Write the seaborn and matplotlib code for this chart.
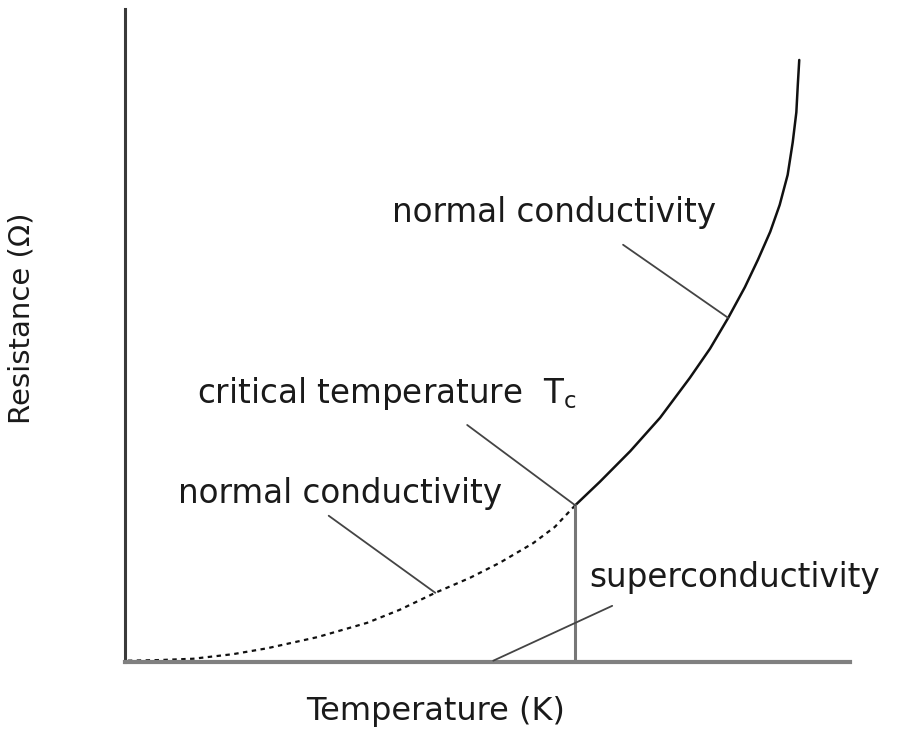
import seaborn as sns
import matplotlib
matplotlib.use('Agg')
import matplotlib.pyplot as plt
import pandas as pd

# resistance curve below Tc (dashed, "would-be" normal behaviour)
temp_normal_low = [0.4, 4.8, 9.4, 14.9, 19.6, 26.5, 33.4, 37.9, 42.8,
                   47.6, 51.7, 56.3, 59.3, 62.1]
res_normal_low = [0.2, 0.3, 0.5, 1.2, 2.1, 3.8, 6.0, 8.0, 10.6,
                  12.9, 15.2, 18.2, 20.7, 24.0]

# resistance curve above Tc (solid)
temp_normal_high = [62.1, 65.5, 69.7, 73.8, 77.9, 80.7, 83.2, 85.5, 87.3,
                    89.0, 90.3, 91.4, 92.1, 92.6, 92.8, 93.0]
res_normal_high = [24.0, 27.6, 32.3, 37.4, 43.5, 48.0, 52.7, 57.4, 61.6,
                   65.9, 70.0, 74.6, 79.6, 84.2, 88.4, 92.2]

t_critical = 62.1
r_critical = 24.0

# label text, anchor of text, pointer start, pointer end
labels = ['normal conductivity', 'critical temperature  T$_{\\mathrm{c}}$',
          'normal conductivity', 'superconductivity']
label_pos = [(36.8, 67.4), (9.9, 39.7), (7.3, 24.3), (64.1, 11.5)]
pointer_from = [(68.7, 63.9), (47.2, 36.3), (28.1, 22.4), (67.2, 8.6)]
pointer_to = [(83.2, 52.7), (62.1, 24.0), (42.8, 10.6), (50.8, 0.2)]

sns.set_theme(style='white')
plt.rcParams['font.family'] = ['DejaVu Sans']
plt.rcParams['mathtext.fontset'] = 'dejavusans'

fig = plt.figure(figsize=(9.01, 7.29), dpi=100)
ax = fig.add_axes([0.1387, 0.0919, 0.8047, 0.8957])

low = pd.DataFrame({'T': temp_normal_low, 'R': res_normal_low})
high = pd.DataFrame({'T': temp_normal_high, 'R': res_normal_high})

sns.lineplot(data=low, x='T', y='R', ax=ax, sort=False, color='#111111',
             linewidth=1.6, linestyle=(0, (2, 2)))
sns.lineplot(data=high, x='T', y='R', ax=ax, sort=False, color='#111111',
             linewidth=1.8)
ax.plot([t_critical, t_critical], [0, r_critical], color='#777777', linewidth=2.2)

for txt, pos, p0, p1 in zip(labels, label_pos, pointer_from, pointer_to):
    ax.text(pos[0], pos[1], txt, fontsize=23.5, color='#1a1a1a',
            ha='left', va='baseline')
    ax.annotate('', xy=p1, xytext=p0,
                arrowprops=dict(arrowstyle='-', color='#444444', lw=1.3,
                                shrinkA=0, shrinkB=0))

ax.set_xlim(0, 100)
ax.set_ylim(0, 100)
ax.set_xticks([])
ax.set_yticks([])

for side in ['top', 'right']:
    ax.spines[side].set_visible(False)
ax.spines['left'].set_color('#3a3a3a')
ax.spines['left'].set_linewidth(2.2)
ax.spines['bottom'].set_color('#808080')
ax.spines['bottom'].set_linewidth(3)

ax.set_xlabel('Temperature (K)', fontsize=23, color='#1a1a1a')
ax.xaxis.set_label_coords(0.428, -0.052)
ax.set_ylabel('Resistance (Ω)', fontsize=21, color='#1a1a1a')
ax.yaxis.set_label_coords(-0.123, 0.527)

fig.savefig('out.png', dpi=100, facecolor='white')
plt.close(fig)
